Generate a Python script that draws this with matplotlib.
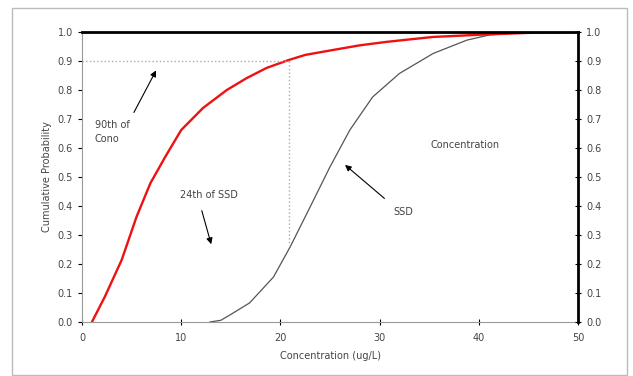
# cumulative probability curves: concentration vs SSD
import matplotlib
matplotlib.use('Agg')
import matplotlib.pyplot as plt
from matplotlib.patches import Rectangle

# concentration distribution (red)
conc_x = [1.0, 2.3, 4.0, 5.5, 6.9, 8.4, 10.0, 12.2, 14.6, 16.6, 18.6, 20.8, 22.5, 25.3, 28, 30.7, 35.4, 40.4, 45, 50]
conc_y = [0.0, 0.087, 0.214, 0.363, 0.479, 0.57, 0.662, 0.738, 0.80, 0.841, 0.876, 0.903, 0.921, 0.938, 0.954, 0.966, 0.983, 0.991, 0.997, 1.0]

# species sensitivity distribution (gray)
ssd_x = [12.9, 14.0, 14.9, 16.9, 19.3, 21.0, 23.0, 25.0, 27.0, 29.3, 32.0, 35.4, 38.8, 41.1, 44, 47, 50]
ssd_y = [0.0, 0.006, 0.024, 0.066, 0.155, 0.26, 0.397, 0.535, 0.662, 0.776, 0.857, 0.926, 0.972, 0.99, 0.997, 0.999, 1.0]

yticks = [0.0, 0.1, 0.2, 0.3, 0.4, 0.5, 0.6, 0.7, 0.8, 0.9, 1.0]
xticks = [0, 10, 20, 30, 40, 50]

txt = '#444444'
plt.rcParams['font.family'] = 'DejaVu Sans'
plt.rcParams['font.size'] = 7

fig = plt.figure(figsize=(6.33, 3.76), dpi=100)
fig.patches.append(Rectangle((12 / 633, 1 / 376), 615 / 633, 367 / 376, transform=fig.transFigure,
                             fill=False, edgecolor='#bbbbbb', linewidth=1))
ax = fig.add_axes([82 / 633, 1 - 322 / 376, 496 / 633, 290 / 376])

ax.plot(ssd_x, ssd_y, color='#555555', linewidth=0.9)
ax.plot(conc_x, conc_y, color='#ee1111', linewidth=1.7)

# 90th percentile guide lines
ax.plot([0, 20.9], [0.9, 0.9], color='#aaaaaa', linestyle=':', linewidth=1)
ax.plot([20.9, 20.9], [0.9, 0.27], color='#aaaaaa', linestyle=':', linewidth=1)

ax.set_xlim(0, 50)
ax.set_ylim(0, 1)
ax.set_xticks(xticks)
ax.set_yticks(yticks)
ax.set_yticklabels([f'{v:.1f}' for v in yticks])
ax.tick_params(axis='both', colors='black', labelcolor=txt, length=3, labelsize=7)
ax.tick_params(axis='x', direction='inout', length=4, pad=6)

ax.spines['left'].set_color('#999999')
ax.spines['bottom'].set_color('#999999')
ax.spines['top'].set_color('black')
ax.spines['top'].set_linewidth(2)
ax.spines['right'].set_color('black')
ax.spines['right'].set_linewidth(2)

ax2 = ax.twinx()
ax2.set_ylim(0, 1)
ax2.set_yticks(yticks)
ax2.set_yticklabels([f'{v:.1f}' for v in yticks])
ax2.tick_params(axis='y', direction='inout', length=5, colors='black', labelcolor=txt, labelsize=7)
for s in ax2.spines.values():
    s.set_visible(False)

ax.set_xlabel('Concentration (ug/L)', color=txt, fontsize=7, labelpad=6)
ax.set_ylabel('Cumulative Probability', color=txt, fontsize=7)

arrow = dict(arrowstyle='-|>', color='black', linewidth=0.8, mutation_scale=9)
ax.annotate('', xy=(7.6, 0.876), xytext=(5.1, 0.714), arrowprops=arrow)
ax.text(1.3, 0.655, '90th of\nCono', color=txt, fontsize=7, va='center', linespacing=1.6)
ax.annotate('', xy=(13.1, 0.259), xytext=(12.0, 0.393), arrowprops=arrow)
ax.text(12.8, 0.438, '24th of SSD', color=txt, fontsize=7, ha='center', va='center')
ax.annotate('', xy=(26.3, 0.548), xytext=(30.7, 0.42), arrowprops=arrow)
ax.text(32.4, 0.38, 'SSD', color=txt, fontsize=7, ha='center', va='center')
ax.text(38.6, 0.61, 'Concentration', color=txt, fontsize=7, ha='center', va='center')

fig.savefig('out.png', dpi=100)
